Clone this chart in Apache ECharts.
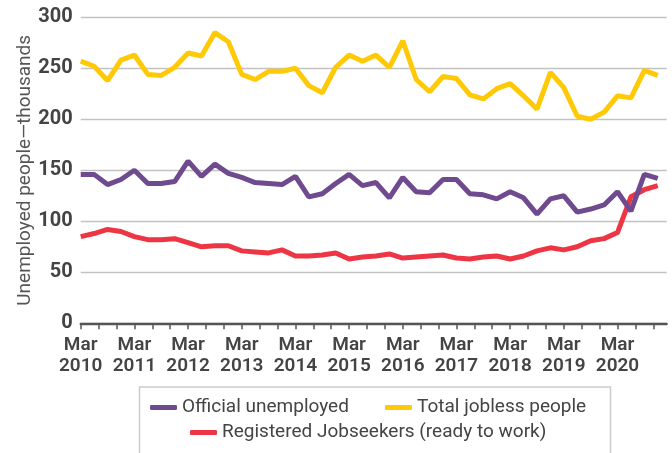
<!DOCTYPE html>
<html><head><meta charset="utf-8">
<script src="https://cdn.jsdelivr.net/npm/echarts@6/dist/echarts.min.js"></script>
<style>html,body{margin:0;padding:0;background:#fff}#c{width:672px;height:453px}</style>
</head><body><div id="c"></div>
<script>
// Monthly category axis: Mar 2010 .. Feb 2021; data are quarterly (every 3 months)
const monthNames = ['Jan','Feb','Mar','Apr','May','Jun','Jul','Aug','Sep','Oct','Nov','Dec'];
const tickYears = ['2010','2011','2012','2013','2014','2015','2016','2017','2018','2019','2020'];
const seriesNames = ['Official unemployed', 'Total jobless people', 'Registered Jobseekers (ready to work)'];
const officialUnemployed = [146,146,136,141,150,137,137,139,159,144,156,147,143,138,137,136,144,124,127,137,146,135,138,123,143,129,128,141,141,127,126,122,129,123,107,122,125,109,112,116,129,110,146,142];
const totalJobless = [257,252,238,258,263,244,243,251,265,262,285,276,244,239,247,247,250,233,226,251,263,257,263,251,277,239,227,242,240,224,220,230,235,223,210,246,231,203,200,207,223,221,248,243];
const registeredJobseekers = [85,88,92,90,85,82,82,83,79,75,76,76,71,70,69,72,66,66,67,69,63,65,66,68,64,65,66,67,64,63,65,66,63,66,71,74,72,75,81,83,89,124,131,135];
const yTicks = [0, 50, 100, 150, 200, 250, 300];

const categories = [];
for (let k = 0; k < 132; k++) {
  const m = 2 + k;
  categories.push(monthNames[m % 12] + ' ' + (2010 + Math.floor(m / 12)));
}
const toPairs = arr => arr.map((v, i) => [i * 3, v]);

const chart = echarts.init(document.getElementById('c'), null, {renderer: 'canvas'});
const FONT = 'Roboto, "Noto Sans", sans-serif';
const colors = ['#6f4a8e', '#ffca05', '#ee3543'];

function mkLegend(name, left, top) {
  return {
    data: [name], left: left, top: top, padding: 0, orient: 'horizontal',
    icon: 'roundRect', itemWidth: 27, itemHeight: 5, itemGap: 5,
    textStyle: {fontFamily: FONT, fontSize: 19, color: '#444', padding: [0, 0, 0, 0]},
    selectedMode: false
  };
}

chart.setOption({
  backgroundColor: '#fff',
  animation: false,
  color: colors,
  grid: {left: 80.7, right: 5.3, top: 17.3, bottom: 129.7, containLabel: false},
  graphic: [{
    type: 'rect', left: 137, top: 384.5,
    shape: {width: 471, height: 80},
    style: {fill: 'none', stroke: '#cccccc', lineWidth: 1.5}, silent: true
  }],
  legend: [
    mkLegend(seriesNames[0], 150, 398),
    mkLegend(seriesNames[1], 385, 398),
    mkLegend(seriesNames[2], 190, 423)
  ],
  xAxis: {
    type: 'category', data: categories, boundaryGap: false,
    axisLine: {show: true, lineStyle: {color: '#555', width: 2.3}},
    axisTick: {show: true, interval: 3, length: 6, lineStyle: {color: '#555', width: 1.5}},
    axisLabel: {
      interval: 11, margin: 11,
      fontFamily: FONT, fontSize: 19, fontWeight: 600, color: '#444', lineHeight: 21.5,
      formatter: (v) => {
        const parts = v.split(' ');
        return tickYears.indexOf(parts[1]) >= 0 && parts[0] === 'Mar' ? parts[0] + '\n' + parts[1] : '';
      }
    },
    splitLine: {show: false}
  },
  yAxis: {
    type: 'value', min: 0, max: 300, interval: 50,
    name: 'Unemployed people\u2014thousands', nameLocation: 'middle', nameGap: 46,
    nameMoveOverlap: false,
    nameTextStyle: {fontFamily: FONT, fontSize: 19, color: '#555'},
    axisLine: {show: false}, axisTick: {show: false},
    axisLabel: {
      margin: 8, fontFamily: FONT, fontSize: 20, fontWeight: 'bold', color: '#444',
      formatter: v => yTicks.indexOf(v) >= 0 ? String(v) : ''
    },
    splitLine: {show: true, lineStyle: {color: '#c2c2c2', width: 1.3}}
  },
  series: [
    {name: seriesNames[0], type: 'line', data: toPairs(officialUnemployed), showSymbol: false, symbol: 'none',
     lineStyle: {width: 5, color: colors[0]}, itemStyle: {color: colors[0]}, z: 3},
    {name: seriesNames[1], type: 'line', data: toPairs(totalJobless), showSymbol: false, symbol: 'none',
     lineStyle: {width: 5, color: colors[1]}, itemStyle: {color: colors[1]}, z: 2},
    {name: seriesNames[2], type: 'line', data: toPairs(registeredJobseekers), showSymbol: false, symbol: 'none',
     lineStyle: {width: 5, color: colors[2]}, itemStyle: {color: colors[2]}, z: 2}
  ]
});
</script>
</body></html>
